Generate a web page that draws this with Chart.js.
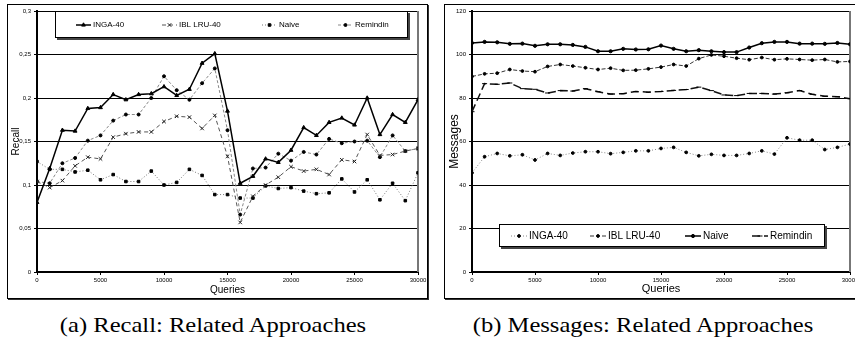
<!DOCTYPE html>
<html>
<head>
<meta charset="utf-8">
<script src="https://cdn.jsdelivr.net/npm/chart.js@4"></script>
<style>
  body { margin: 0; background: #fff; width: 855px; height: 341px; position: relative; overflow: hidden; }
  .frame { position: absolute; border: 1px solid #000; box-shadow: 1px 1px 0 #333; box-sizing: border-box; }
  .box { position: absolute; }
  .cap { position: absolute; top: 312px; height: 26px; line-height: 26px; font-family: "Liberation Serif", "Times New Roman", serif;
         font-size: 21px; text-align: center; white-space: nowrap; transform: scaleX(1.17); color: #000; }
</style>
</head>
<body>
<div class="frame" style="left:7px;top:4px;width:421px;height:295px"></div>
<div class="frame" style="left:444px;top:4px;width:420px;height:295px"></div>
<div class="box" style="left:7px;top:4px;width:421px;height:295px"><canvas id="recall"></canvas></div>
<div class="box" style="left:444px;top:4px;width:411px;height:295px"><canvas id="messages"></canvas></div>
<div class="cap" style="left:63px;width:300px">(a) Recall: Related Approaches</div>
<div class="cap" style="left:468px;width:350px">(b) Messages: Related Approaches</div>
<script>
// x values (queries) shared by both panels
const queries = [0, 1000, 2000, 3000, 4000, 5000, 6000, 7000, 8000, 9000, 10000,
  11000, 12000, 13000, 14000, 15000, 16000, 17000, 18000, 19000, 20000,
  21000, 22000, 23000, 24000, 25000, 26000, 27000, 28000, 29000, 30000]
const queryTicks = ['0', '5000', '10000', '15000', '20000', '25000', '30000']

// (a) recall
const recallTicks = ['0', '0,05', '0,1', '0,15', '0,2', '0,25', '0,3']
const recallInga = [0.080, 0.119, 0.163, 0.162, 0.188, 0.189, 0.204, 0.198, 0.204, 0.205, 0.213,
  0.203, 0.210, 0.240, 0.251, 0.185, 0.102, 0.110, 0.130, 0.126, 0.140,
  0.166, 0.157, 0.172, 0.177, 0.169, 0.200, 0.158, 0.181, 0.172, 0.198]
const recallIbl = [0.104, 0.097, 0.105, 0.122, 0.132, 0.130, 0.155, 0.159, 0.161, 0.161, 0.173,
  0.179, 0.178, 0.165, 0.180, 0.133, 0.057, 0.087, 0.100, 0.109, 0.121,
  0.116, 0.118, 0.112, 0.129, 0.127, 0.158, 0.134, 0.135, 0.139, 0.142]
const recallNaive = [0.127, 0.118, 0.118, 0.115, 0.117, 0.106, 0.112, 0.104, 0.104, 0.116, 0.100,
  0.103, 0.118, 0.111, 0.089, 0.089, 0.085, 0.085, 0.099, 0.096, 0.097,
  0.093, 0.090, 0.091, 0.107, 0.092, 0.106, 0.083, 0.102, 0.082, 0.114]
const recallRemindin = [0.104, 0.102, 0.125, 0.131, 0.151, 0.157, 0.174, 0.181, 0.181, 0.200, 0.225,
  0.209, 0.198, 0.217, 0.234, 0.163, 0.066, 0.119, 0.120, 0.136, 0.128,
  0.138, 0.135, 0.153, 0.148, 0.150, 0.151, 0.132, 0.157, 0.139, 0.142]

// (b) messages
const messageTicks = ['0', '20', '40', '60', '80', '100', '120']
const msgInga = [45.6, 53.0, 54.5, 53.4, 53.9, 51.5, 54.5, 53.6, 54.7, 55.3, 55.3,
  54.4, 55.0, 55.7, 55.7, 56.8, 57.3, 55.0, 53.4, 54.1, 53.6,
  53.6, 54.5, 55.7, 54.2, 61.7, 60.6, 60.6, 56.3, 57.3, 58.8]
const msgIbl = [89.9, 91.1, 91.4, 93.1, 92.4, 92.1, 94.5, 95.4, 94.7, 93.9, 93.1,
  93.7, 92.7, 92.8, 93.4, 94.2, 95.4, 94.7, 98.1, 99.8, 99.2,
  98.3, 97.6, 98.6, 97.6, 98.0, 97.7, 97.4, 97.7, 96.6, 96.8]
const msgNaive = [105.3, 105.8, 105.6, 104.9, 105.0, 104.0, 104.7, 104.7, 104.4, 103.5, 101.5,
  101.5, 102.6, 102.3, 102.4, 104.1, 102.6, 101.5, 102.0, 101.5, 101.1,
  101.1, 103.2, 105.2, 105.8, 105.8, 105.0, 105.0, 104.9, 105.3, 104.7]
const msgRemindin = [73.7, 86.6, 86.3, 86.9, 84.3, 84.0, 82.3, 83.4, 83.2, 84.3, 82.9,
  81.8, 82.0, 83.0, 82.7, 83.0, 83.5, 83.9, 85.0, 83.4, 81.4,
  81.1, 82.1, 82.1, 81.8, 82.4, 83.4, 81.7, 80.8, 80.6, 79.7]

Chart.defaults.font.family = '"Liberation Sans", Arial, sans-serif'
Chart.defaults.color = '#000'

function pts(values) {
    return queries.map((q, i) => ({x: q, y: values[i]}))
}

function series(label, values, style) {
    return Object.assign({
        label,
        data: pts(values),
        borderWidth: 1,
        pointBorderWidth: 1,
        pointBackgroundColor: '#000',
        pointBorderColor: '#000',
        tension: 0,
    }, style)
}

// legend drawn as a box inside the plot, like the original
const boxLegend = {
    id: 'boxLegend',
    afterDraw(chart, args, opts) {
        let ctx = chart.ctx
        let [x1, y1, x2, y2] = opts.box
        ctx.save()
        ctx.fillStyle = '#444'
        ctx.fillRect(x1 + 2, y1 + 2, x2 - x1, y2 - y1)
        ctx.fillStyle = '#fff'
        ctx.fillRect(x1, y1, x2 - x1, y2 - y1)
        ctx.strokeStyle = '#000'
        ctx.lineWidth = 1
        ctx.strokeRect(x1 + 0.5, y1 + 0.5, x2 - x1 - 1, y2 - y1 - 1)
        chart.data.datasets.forEach((ds, i) => {
            let x = opts.itemX[i]
            let y = opts.y
            ctx.strokeStyle = ds.borderColor
            ctx.lineWidth = ds.borderWidth
            ctx.setLineDash(ds.borderDash || [])
            ctx.beginPath()
            ctx.moveTo(x, y)
            ctx.lineTo(x + opts.sample, y)
            ctx.stroke()
            ctx.setLineDash([])
            ctx.fillStyle = ds.pointBackgroundColor
            ctx.strokeStyle = ds.pointBorderColor
            ctx.lineWidth = 1
            if (Chart.helpers && Chart.helpers.drawPoint) {
                Chart.helpers.drawPoint(ctx, {pointStyle: ds.pointStyle, radius: ds.pointRadius, borderWidth: 1, rotation: 0},
                    x + opts.sample / 2, y)
            }
            ctx.fillStyle = '#000'
            ctx.font = opts.font
            ctx.textBaseline = 'middle'
            ctx.fillText(ds.label, x + opts.sample + 2, y)
        })
        ctx.restore()
    },
}

// right edge of plot area
const areaEdge = {
    id: 'areaEdge',
    beforeDatasetsDraw(chart, args, opts) {
        let {right, top, bottom} = chart.chartArea
        let ctx = chart.ctx
        ctx.save()
        ctx.strokeStyle = opts.color
        ctx.lineWidth = 2
        ctx.beginPath()
        ctx.moveTo(right, top)
        ctx.lineTo(right, bottom)
        ctx.stroke()
        ctx.restore()
    },
}

function makeChart(id, datasets, cfg) {
    return new Chart(document.getElementById(id), {
        type: 'line',
        data: {datasets},
        plugins: [areaEdge, boxLegend],
        options: {
            responsive: true,
            maintainAspectRatio: false,
            animation: false,
            layout: {padding: {top: cfg.padTop, right: cfg.padRight, left: 0, bottom: 0}},
            plugins: {
                legend: {display: false},
                tooltip: {enabled: false},
                boxLegend: cfg.legend,
                areaEdge: {color: '#777'},
            },
            scales: {
                x: {
                    type: 'linear',
                    min: 0,
                    max: 30000,
                    afterFit(scale) {
                        scale.height = cfg.xHeight
                        scale.paddingLeft = 0
                        scale.paddingRight = 0
                    },
                    ticks: {
                        stepSize: 5000,
                        font: {size: 6},
                        padding: 2,
                        maxRotation: 0,
                        callback: (v, i) => queryTicks[i],
                    },
                    grid: {drawOnChartArea: false, drawTicks: true, tickLength: 3, tickColor: '#000'},
                    border: {display: true, color: '#000', width: 2},
                    title: {display: true, text: 'Queries', font: {size: cfg.xTitleSize}, padding: {top: 0, bottom: 3}},
                },
                y: {
                    min: 0,
                    max: cfg.yMax,
                    afterFit(scale) {
                        scale.width = cfg.yWidth
                    },
                    ticks: {
                        stepSize: cfg.yStep,
                        font: {size: 6},
                        padding: 3,
                        callback: (v, i) => cfg.yTicks[i],
                    },
                    grid: {color: '#000', lineWidth: 1, tickLength: 3, tickColor: '#000'},
                    border: {display: true, color: '#000', width: 2},
                    title: {display: true, text: cfg.yTitle, font: {size: cfg.yTitleSize}, padding: {top: 3, bottom: 0}},
                },
            },
        },
    })
}

makeChart('recall', [
    series('INGA-40', recallInga, {borderColor: '#000', borderWidth: 1.5, pointStyle: 'triangle', pointRadius: 2.2}),
    series('IBL LRU-40', recallIbl, {borderColor: '#555', borderDash: [4, 3], pointStyle: 'crossRot', pointRadius: 2.5, pointBorderColor: '#222'}),
    series('Naive', recallNaive, {borderColor: '#777', borderDash: [1, 2], pointStyle: 'rect', pointRadius: 1.8}),
    series('Remindin', recallRemindin, {borderColor: '#888', borderDash: [3, 2], pointStyle: 'circle', pointRadius: 1.5}),
], {
    padTop: 7, padRight: 10, xHeight: 27, yWidth: 30,
    yMax: 0.3, yStep: 0.05, yTicks: recallTicks, yTitle: 'Recall', yTitleSize: 10, xTitleSize: 10,
    legend: {box: [48, 7, 401, 34], itemX: [69, 155, 255, 331], y: 21, sample: 15, font: '8px "Liberation Sans", Arial'},
})

makeChart('messages', [
    series('INGA-40', msgInga, {borderColor: '#888', borderDash: [1, 2], pointStyle: 'circle', pointRadius: 1.4}),
    series('IBL LRU-40', msgIbl, {borderColor: '#333', borderDash: [4, 2], pointStyle: 'circle', pointRadius: 1.4}),
    series('Naive', msgNaive, {borderColor: '#000', borderWidth: 1.5, pointStyle: 'circle', pointRadius: 1.6}),
    series('Remindin', msgRemindin, {borderColor: '#111', borderWidth: 1.5, borderDash: [8, 4], pointStyle: 'line', pointRadius: 2.5}),
], {
    padTop: 7, padRight: 3, xHeight: 27, yWidth: 28,
    yMax: 120, yStep: 20, yTicks: messageTicks, yTitle: 'Messages', yTitleSize: 12, xTitleSize: 11,
    legend: {box: [55, 220, 381, 243], itemX: [67, 146, 241, 308], y: 232, sample: 16, font: '10px "Liberation Sans", Arial'},
})
</script>
</body>
</html>
